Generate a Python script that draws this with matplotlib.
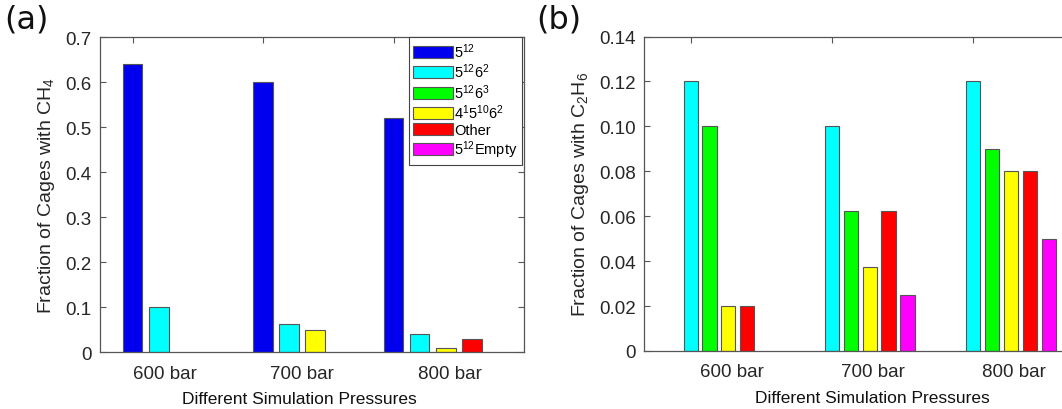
import numpy as np
import matplotlib
matplotlib.use("Agg")
import matplotlib.pyplot as plt

plt.rcParams['font.family'] = ['Liberation Sans', 'DejaVu Sans']
plt.rcParams['mathtext.fontset'] = 'custom'
plt.rcParams['mathtext.rm'] = 'Liberation Sans'
plt.rcParams['mathtext.it'] = 'Liberation Sans:italic'

pressures = ["600 bar", "700 bar", "800 bar"]
cage_types = [r"$5^{12}$", r"$5^{12}6^{2}$", r"$5^{12}6^{3}$",
              r"$4^{1}5^{10}6^{2}$", "Other", r"$5^{12}$Empty"]
colors = ["#0000ee", "#00ffff", "#00ff00", "#ffff00", "#ff0000", "#ff00ff"]

# rows: pressure, columns: cage type
ch4 = np.array([[0.64, 0.10, 0.0, 0.0, 0.0, 0.0],
                [0.60, 0.0625, 0.0, 0.05, 0.0, 0.0],
                [0.52, 0.04, 0.0, 0.01, 0.03, 0.0]])
c2h6 = np.array([[0.0, 0.12, 0.10, 0.02, 0.02, 0.0],
                 [0.0, 0.10, 0.0625, 0.0375, 0.0625, 0.025],
                 [0.0, 0.12, 0.09, 0.08, 0.08, 0.05]])

ch4_yticks = [0, 0.1, 0.2, 0.3, 0.4, 0.5, 0.6, 0.7]
ch4_ylabels = ["0", "0.1", "0.2", "0.3", "0.4", "0.5", "0.6", "0.7"]
c2h6_yticks = [0, 0.02, 0.04, 0.06, 0.08, 0.10, 0.12, 0.14]
c2h6_ylabels = ["0", "0.02", "0.04", "0.06", "0.08", "0.10", "0.12", "0.14"]

txt = "#262626"
edge = "#555555"


def bars(ax, data, step, width):
    # nonzero bars are packed side by side starting at the group tick
    for g in range(data.shape[0]):
        k = 0
        for s in range(data.shape[1]):
            if data[g, s] <= 0:
                continue
            ax.bar(g + 1 + k * step, data[g, s], width, color=colors[s],
                   edgecolor=edge, linewidth=0.8, zorder=2)
            k += 1


def style(ax, yticks, ylabels, ylim, xlim, label_pos, ylabel):
    ax.set_xlim(*xlim)
    ax.set_ylim(*ylim)
    ax.set_yticks(yticks)
    ax.set_yticklabels(ylabels)
    ax.set_xticks([1, 2, 3])
    ax.set_xticklabels(["", "", ""])
    ax.set_xticks(label_pos, minor=True)
    ax.set_xticklabels(pressures, minor=True)
    ax.tick_params(axis='both', which='major', direction='in', top=True,
                   right=True, length=4, width=0.8, color="#555555",
                   labelsize=13.5, labelcolor=txt, pad=6)
    ax.tick_params(axis='x', which='minor', length=0, labelsize=13.5,
                   labelcolor=txt, pad=9)
    for sp in ax.spines.values():
        sp.set_color("#555555")
        sp.set_linewidth(0.9)
    ax.set_ylabel(ylabel, fontsize=14, color=txt, labelpad=6)
    ax.set_xlabel("Different Simulation Pressures", fontsize=12.5,
                  color="#111111", labelpad=4)


fig = plt.figure(figsize=(10.62, 4.10), dpi=100)

ax1 = fig.add_axes([0.0942, 0.139, 0.3992, 0.768])
bars(ax1, ch4, 0.2, 0.15)
style(ax1, ch4_yticks, ch4_ylabels, (0, 0.7), (0.75, 4.0),
      [1.25, 2.30, 3.43], "Fraction of Cages with CH$_4$")
proxies = [plt.Rectangle((0, 0), 1, 1, facecolor=c, edgecolor=edge, linewidth=0.8)
           for c in colors]
leg = ax1.legend(proxies, cage_types, loc="upper right",
                 bbox_to_anchor=(0.995, 1.0), fontsize=10.5, frameon=True,
                 fancybox=False, framealpha=1, edgecolor="#444444",
                 handlelength=2.7, handleheight=0.9, handletextpad=0.1,
                 labelspacing=0.12, borderpad=0.3, borderaxespad=0)
leg.get_frame().set_linewidth(0.8)
ax1.xaxis.set_label_coords(0.47, -0.125)

ax2 = fig.add_axes([0.6064, 0.1415, 0.4294, 0.767])
bars(ax2, c2h6, 0.134, 0.1)
style(ax2, c2h6_yticks, c2h6_ylabels, (0, 0.14), (0.67, 3.9),
      [1.29, 2.29, 3.29], "Fraction of Cages with C$_2$H$_6$")
ax2.xaxis.set_label_coords(0.5, -0.125)

fig.text(0.004, 0.99, "(a)", fontsize=23, family="DejaVu Sans",
         va="top", ha="left", color="#111111")
fig.text(0.505, 0.99, "(b)", fontsize=23, family="DejaVu Sans",
         va="top", ha="left", color="#111111")

fig.savefig("out.png", dpi=100)
